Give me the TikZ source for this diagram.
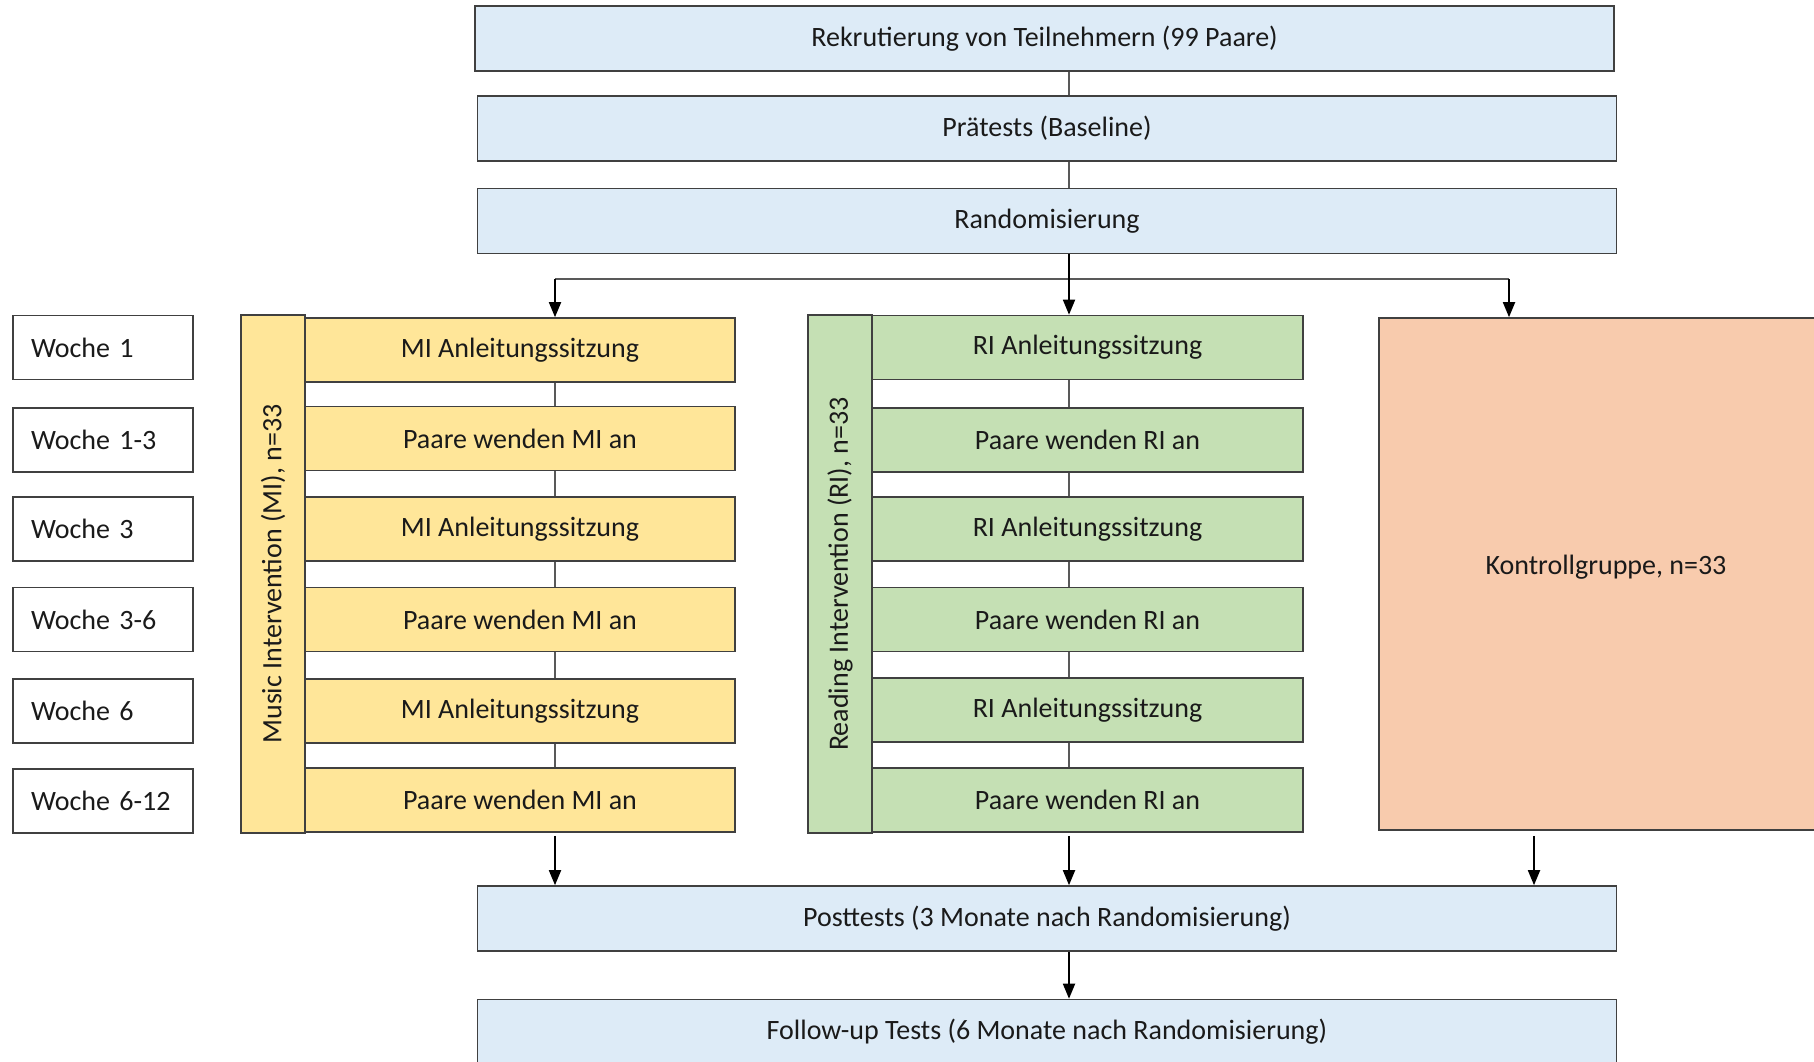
\documentclass[tikz,border=0pt]{standalone}
\usepackage{fontspec}
\setmainfont{Carlito}
\usetikzlibrary{arrows.meta}
\definecolor{blueF}{HTML}{DDEBF7}
\definecolor{yellowF}{HTML}{FFE699}
\definecolor{greenF}{HTML}{C5E0B4}
\definecolor{orangeF}{HTML}{F8CBAD}
\definecolor{edgeC}{HTML}{404040}
\definecolor{lineC}{HTML}{595959}
\definecolor{txtC}{HTML}{1A1A1A}
\begin{document}
\begin{tikzpicture}[x=1pt,y=1pt,
  font=\fontsize{28}{33}\selectfont,
  box/.style={draw=edgeC, line width=1.6pt, inner sep=0pt, text=txtC},
  bluebox/.style={box, fill=blueF, minimum width=1139pt, minimum height=65pt},
  wbox/.style={box, fill=white, minimum height=64pt, text width=144pt, inner xsep=18pt, align=left},
  mibox/.style={box, fill=yellowF, minimum width=430pt, minimum height=64pt},
  ribox/.style={box, fill=greenF, minimum width=431pt, minimum height=64pt},
  barbox/.style={box, minimum width=518pt, minimum height=64pt, rotate=90},
  gline/.style={draw=lineC, line width=1.4pt},
  arr/.style={draw=black, line width=1.8pt, -{Triangle[length=15pt,width=12pt]}}
]
\useasboundingbox (0,0) rectangle (1814,-1062);
\clip (0,0) rectangle (1814,-1062);

% top / bottom boxes
\node[bluebox] (rek)  at (1044.5,-38.5) {Rekrutierung von Teilnehmern (99 Paare)};
\node[bluebox] (pre)  at (1047,-128.5) {Prätests (Baseline)};
\node[bluebox] (rand) at (1047,-221) {Randomisierung};
\node[bluebox] (post) at (1047,-918.5) {Posttests (3 Monate nach Randomisierung)};
\node[bluebox] (fu)   at (1047,-1032) {Follow-up Tests (6 Monate nach Randomisierung)};

% week labels
\node[wbox] (w1) at (103,-347.5) {Woche 1};
\node[wbox] (w2) at (103,-440) {Woche 1-3};
\node[wbox] (w3) at (103,-529) {Woche 3};
\node[wbox] (w4) at (103,-619.5) {Woche 3-6};
\node[wbox] (w5) at (103,-711) {Woche 6};
\node[wbox] (w6) at (103,-801) {Woche 6-12};

% group bars
\node[barbox, fill=yellowF] (mi) at (273,-574) {Music Intervention (MI), n=33};
\node[barbox, fill=greenF]  (ri) at (840,-574) {Reading Intervention (RI), n=33};

% MI steps
\node[mibox] (mi1) at (520,-350)   {MI Anleitungssitzung};
\node[mibox] (mi2) at (520,-438.5) {Paare wenden MI an};
\node[mibox] (mi3) at (520,-529)   {MI Anleitungssitzung};
\node[mibox] (mi4) at (520,-619.5) {Paare wenden MI an};
\node[mibox] (mi5) at (520,-711)   {MI Anleitungssitzung};
\node[mibox] (mi6) at (520,-800)   {Paare wenden MI an};

% RI steps
\node[ribox] (ri1) at (1087.5,-347.5) {RI Anleitungssitzung};
\node[ribox] (ri2) at (1087.5,-440)   {Paare wenden RI an};
\node[ribox] (ri3) at (1087.5,-529)   {RI Anleitungssitzung};
\node[ribox] (ri4) at (1087.5,-619.5) {Paare wenden RI an};
\node[ribox] (ri5) at (1087.5,-710)   {RI Anleitungssitzung};
\node[ribox] (ri6) at (1087.5,-800)   {Paare wenden RI an};

% control group
\node[box, fill=orangeF, minimum width=454pt, minimum height=512pt, text height=20pt, text depth=20pt] (kg) at (1606,-574) {Kontrollgruppe, n=33};

% junction coordinates
\coordinate (jL) at (555,-279);
\coordinate (jC) at (1069,-279);
\coordinate (jR) at (1509,-279);
\coordinate (kR) at (1534,-279);

% top connectors
\draw[gline] (rek.south -| jC) -- (pre.north -| jC);
\draw[gline] (pre.south -| jC) -- (rand.north -| jC);
\draw[gline] (jL) -- (jR);
\draw[arr] (rand.south -| jC) -- (ri1.north -| jC);
\draw[arr] (jL) -- (mi1.north -| jL);
\draw[arr] (jR) -- (kg.north -| jR);

% step connectors
\draw[gline] (mi1.south -| jL) -- (mi2.north -| jL);
\draw[gline] (mi2.south -| jL) -- (mi3.north -| jL);
\draw[gline] (mi3.south -| jL) -- (mi4.north -| jL);
\draw[gline] (mi4.south -| jL) -- (mi5.north -| jL);
\draw[gline] (mi5.south -| jL) -- (mi6.north -| jL);
\draw[gline] (ri1.south -| jC) -- (ri2.north -| jC);
\draw[gline] (ri2.south -| jC) -- (ri3.north -| jC);
\draw[gline] (ri3.south -| jC) -- (ri4.north -| jC);
\draw[gline] (ri4.south -| jC) -- (ri5.north -| jC);
\draw[gline] (ri5.south -| jC) -- (ri6.north -| jC);

% bottom connectors
\draw[arr] ([yshift=-3pt]mi6.south -| jL) -- (post.north -| jL);
\draw[arr] ([yshift=-3pt]ri6.south -| jC) -- (post.north -| jC);
\draw[arr] ([yshift=-5pt]kg.south -| kR) -- (post.north -| kR);
\draw[arr] (post.south -| jC) -- (fu.north -| jC);
\end{tikzpicture}
\end{document}
